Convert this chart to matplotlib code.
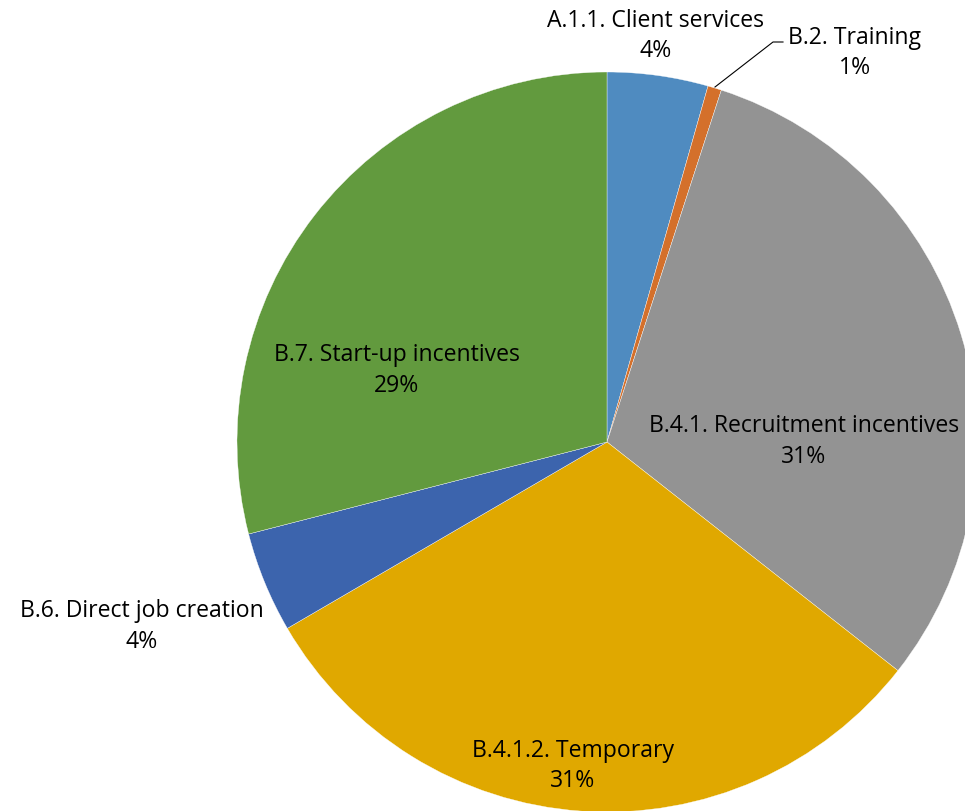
import matplotlib
matplotlib.use("Agg")
import matplotlib.pyplot as plt

# spending shares by programme category (percent)
categories = ['A.1.1. Client services', 'B.2. Training', 'B.4.1. Recruitment incentives',
              'B.4.1.2. Temporary', 'B.6. Direct job creation', 'B.7. Start-up incentives']
shares = [4.4, 0.6, 30.6, 31.0, 4.4, 29.0]

colors = ['#4f8bc0', '#d4702b', '#939393', '#e0a800', '#3c64ad', '#629a3e']
# label centres in data units (pie radius = 1)
label_pos = [(0.132, 1.10), (0.670, 1.054), (0.532, 0.005),
             (-0.092, -0.873), (-1.257, -0.497), (-0.568, 0.195)]

plt.rcParams['font.family'] = ['Open Sans', 'DejaVu Sans']

fig = plt.figure(figsize=(9.65, 8.12), dpi=100)
cx, cy, r = 607, 443, 370
ax = fig.add_axes([(cx - r) / 965, (812 - cy - r) / 812, 2 * r / 965, 2 * r / 812])

wedges, _ = ax.pie(shares, colors=colors, startangle=90, counterclock=False,
                   radius=1.0, wedgeprops=dict(edgecolor='white', linewidth=0.25))
ax.set_xlim(-1, 1)
ax.set_ylim(-1, 1)
ax.set_aspect('equal')
ax.axis('off')
for w in wedges:
    w.set_clip_on(False)

for name, val, (x, y) in zip(categories, shares, label_pos):
    ax.text(x, y, f"{name}\n{val:.0f}%", ha='center', va='center', fontsize=16.6,
            linespacing=1.38, clip_on=False)

# leader line for the small Training slice
ax.plot([(783 - cx) / r, (773 - cx) / r, (715 - cx) / r],
        [(cy - 43) / r, (cy - 43) / r, (cy - 88) / r],
        color='black', lw=0.8, clip_on=False)

fig.savefig('out.png', dpi=100)
